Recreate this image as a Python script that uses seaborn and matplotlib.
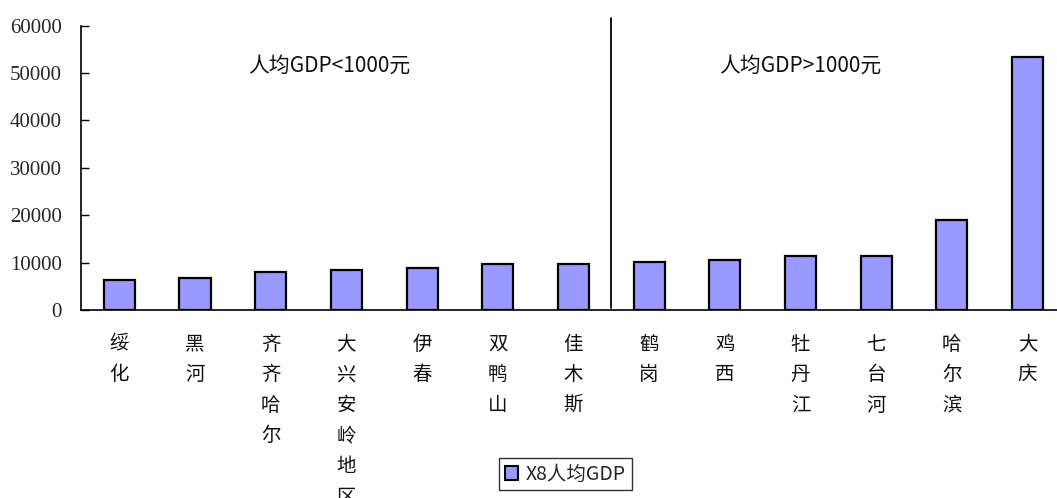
import matplotlib
matplotlib.use("Agg")
import matplotlib.pyplot as plt
import seaborn as sns
import pandas as pd
from matplotlib.patches import Patch

categories = ["绥化", "黑河", "齐齐哈尔", "大兴安岭地区", "伊春", "双鸭山", "佳木斯",
              "鹤岗", "鸡西", "牡丹江", "七台河", "哈尔滨", "大庆"]
values = [6300, 6800, 8000, 8400, 8900, 9700, 9700,
          10100, 10500, 11400, 11400, 18950, 53300]
series_name = "X8人均GDP"
yticks = [0, 10000, 20000, 30000, 40000, 50000, 60000]
note_low = "人均GDP<1000元"
note_high = "人均GDP>1000元"

sns.set_theme(style="white")
cjk = ["Noto Sans CJK SC", "DejaVu Sans"]
plt.rcParams["font.family"] = cjk

df = pd.DataFrame({"city": categories, "gdp": values})

fig = plt.figure(figsize=(10.57, 4.98), dpi=100)
ax = fig.add_axes([0.0771, 0.3775, 0.9229, 0.5709])

sns.barplot(data=df, x="city", y="gdp", color="#9999FF", saturation=1,
            edgecolor="black", linewidth=1.6, width=0.41, ax=ax)

ax.set_xlim(-0.5, 12.39)
ax.set_ylim(0, 60000)
ax.set_yticks(yticks)
ax.set_yticklabels([str(v) for v in yticks], family="Liberation Serif", fontsize=15)
ax.tick_params(axis="y", direction="in", length=6, width=1, color="black", pad=14, left=True)
ax.tick_params(axis="x", length=0, pad=17)
ax.set_xticks(range(len(categories)))
ax.set_xticklabels(["\n".join(c) for c in categories], fontsize=14,
                   linespacing=1.6, va="top", color="#111111")
ax.set_xlabel("")
ax.set_ylabel("")

for s in ["top", "right"]:
    ax.spines[s].set_visible(False)
for s in ["left", "bottom"]:
    ax.spines[s].set_color("black")
    ax.spines[s].set_linewidth(1.2)

# divider line between the two groups
ax.plot([6.5, 6.5], [400, 61700], color="black", lw=1.3, clip_on=False)

ax.text(2.78, 51500, note_low, ha="center", va="center", fontsize=15, color="#111111")
ax.text(9.0, 51500, note_high, ha="center", va="center", fontsize=15, color="#111111")

handle = Patch(facecolor="#9999FF", edgecolor="black", linewidth=1.5, label=series_name)
leg = fig.legend(handles=[handle], loc="center", bbox_to_anchor=(0.535, 0.048),
                 frameon=True, fancybox=False, edgecolor="black", fontsize=14,
                 handlelength=0.7, handleheight=0.7, handletextpad=0.4,
                 borderpad=0.3, borderaxespad=0)
leg.get_frame().set_linewidth(1.0)

fig.savefig("out.png", dpi=100)
